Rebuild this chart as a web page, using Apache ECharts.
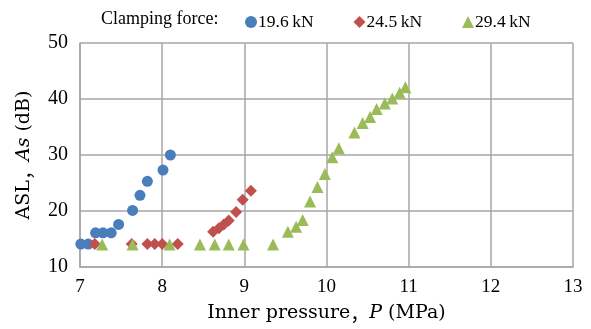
<!DOCTYPE html>
<html><head><meta charset="utf-8">
<script src="https://cdn.jsdelivr.net/npm/echarts@6/dist/echarts.min.js"></script>
<style>html,body{margin:0;padding:0;background:#fff}#c{width:591px;height:329px}</style>
</head><body><div id="c"></div>
<script>
const seriesNames = ['19.6\u2009kN', '24.5\u2009kN', '29.4\u2009kN'];
const xTicks = [7, 8, 9, 10, 11, 12, 13];
const yTicks = [10, 20, 30, 40, 50];
const p196 = [7.01, 7.10, 7.19, 7.28, 7.38, 7.47, 7.64, 7.73, 7.82, 8.01, 8.10];
const as196 = [14.1, 14.1, 16.1, 16.1, 16.1, 17.6, 20.1, 22.8, 25.3, 27.3, 30.0];
const p245 = [7.18, 7.63, 7.82, 7.91, 8.00, 8.19, 8.62, 8.69, 8.75, 8.81, 8.90, 8.98, 9.08];
const as245 = [14.1, 14.1, 14.1, 14.1, 14.1, 14.1, 16.3, 16.9, 17.6, 18.3, 19.8, 22.0, 23.6];
const p294 = [7.27, 7.64, 8.09, 8.46, 8.64, 8.81, 8.99, 9.35, 9.53, 9.63, 9.71, 9.80, 9.89, 9.98, 10.07, 10.15, 10.34, 10.44, 10.53, 10.61, 10.71, 10.80, 10.89, 10.96];
const as294 = [14.0, 14.0, 14.0, 14.0, 14.0, 14.0, 14.0, 14.0, 16.3, 17.2, 18.4, 21.7, 24.3, 26.6, 29.6, 31.2, 34.0, 35.7, 36.8, 38.2, 39.2, 40.1, 41.1, 42.1];

const zip = (a, b) => a.map((v, i) => [v, b[i]]);
const font = '"Liberation Serif", "DejaVu Serif", serif';
const nameFont = '"DejaVu Serif", "Liberation Serif", serif';
const gridColor = '#a6a6a6';
const chart = echarts.init(document.getElementById('c'));
const nameRich = {
  n: { fontFamily: nameFont, fontSize: 19, color: '#000' },
  c: { fontFamily: '"Noto Sans CJK JP", "Noto Sans CJK SC", sans-serif', fontSize: 19, color: '#000' },
  i: { fontFamily: nameFont, fontSize: 19, fontStyle: 'italic', color: '#000' }
};
chart.setOption({
  animation: false,
  textStyle: { fontFamily: font, color: '#000' },
  title: {
    text: 'Clamping force:', left: 96, top: 5,
    textStyle: { fontFamily: font, fontSize: 18, fontWeight: 'normal', color: '#000' }
  },
  legend: {
    left: 240, top: 8, itemGap: 40, itemWidth: 12, itemHeight: 12,
    textStyle: { fontFamily: font, fontSize: 17.5, color: '#000', padding: [0, 0, 0, -4] },
    data: seriesNames
  },
  grid: { left: 80, right: 18, top: 43, bottom: 62, containLabel: false },
  xAxis: {
    type: 'value', min: 7, max: 13, interval: 1,
    axisLine: { show: true, lineStyle: { color: gridColor, width: 1.5 } },
    axisTick: { show: false },
    splitLine: { show: true, lineStyle: { color: gridColor, width: 1.5 } },
    axisLabel: { fontFamily: font, fontSize: 19, color: '#000', margin: 11,
      formatter: v => xTicks.includes(v) ? String(v) : '' },
    name: '{n|Inner pressure}{c|\uff0c}{i|P}{n| (MPa)}',
    nameLocation: 'middle', nameGap: 37,
    nameTextStyle: { rich: nameRich }
  },
  yAxis: {
    type: 'value', min: 10, max: 50, interval: 10,
    axisLine: { show: true, lineStyle: { color: gridColor, width: 1.5 } },
    axisTick: { show: false },
    splitLine: { show: true, lineStyle: { color: gridColor, width: 1.5 } },
    axisLabel: { fontFamily: font, fontSize: 20, color: '#000', margin: 12,
      formatter: v => yTicks.includes(v) ? String(v) : '' },
    name: '{n|ASL}{c|\uff0c}{i|As}{n| (dB)}',
    nameLocation: 'middle', nameGap: 46,
    nameTextStyle: { rich: nameRich }
  },
  series: [
    { name: seriesNames[0], type: 'scatter', symbol: 'circle', symbolSize: 11,
      itemStyle: { color: '#4a7ebb', opacity: 1 }, data: zip(p196, as196), z: 2 },
    { name: seriesNames[1], type: 'scatter', symbol: 'diamond', symbolSize: 12,
      itemStyle: { color: '#c0504d', opacity: 1 }, data: zip(p245, as245), z: 3 },
    { name: seriesNames[2], type: 'scatter', symbol: 'triangle', symbolSize: 12,
      itemStyle: { color: '#9bbb59', opacity: 1 }, data: zip(p294, as294), z: 4 }
  ]
});
</script></body></html>
